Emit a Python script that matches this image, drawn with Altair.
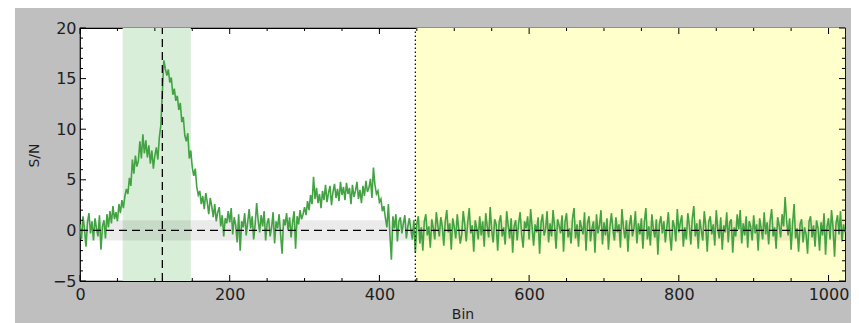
import altair as alt
import pandas as pd

# ---------------- data ----------------
BIN_STEP = 2
sn = [
    # 0-38
    0.6, -0.9, 1.4, 0.1, -1.6, 0.8, 1.7, -0.3, 0.9, -1.0,
    1.2, 0.2, -0.6, 1.5, -1.9, 0.4, 1.0, -0.8, 1.6, 0.3,
    # 40-78
    1.9, 0.7, 2.4, 1.1, 1.8, 0.9, 2.6, 1.7, 3.0, 2.2,
    3.4, 4.1, 3.6, 5.2, 4.4, 7.0, 5.6, 7.4, 6.3, 6.9,
    # 80-118
    8.8, 7.1, 9.5, 7.6, 8.9, 7.2, 8.4, 6.6, 7.9, 6.1,
    7.4, 8.2, 7.0, 9.2, 10.4, 13.6, 16.8, 16.0, 15.3, 15.9,
    # 120-158
    14.6, 15.1, 13.4, 14.0, 12.8, 13.3, 11.9, 12.6, 10.7, 11.2,
    9.4, 8.8, 9.6, 7.1, 7.9, 6.2, 5.4, 6.1, 4.3, 3.5,
    # 160-198
    3.9, 2.6, 3.4, 2.1, 3.7, 2.8, 1.6, 3.2, 2.4, 1.3,
    2.6, 0.9, 1.8, 2.3, 0.4, 1.5, -0.6, 1.2, 0.7, 1.9,
    # 200-238
    0.8, 2.2, -0.4, 1.3, 0.5, -1.2, 1.6, -2.0, 0.9, 0.3,
    1.7, -0.5, 0.8, 2.1, 0.2, 1.4, -0.9, 0.6, 2.7, 1.0,
    # 240-278
    -0.2, 1.5, 0.4, 1.9, -1.0, 0.7, 1.2, -0.6, 0.3, 1.8,
    -1.3, 0.9, 0.2, 1.6, -0.4, -2.3, 1.1, 0.5, 1.7, 0.0,
    # 280-318
    1.3, -0.7, 0.8, 1.9, -1.8, 1.4, 0.6, 2.0, 1.1, 1.6,
    2.3, 1.5, 2.9, 2.0, 3.5, 2.6, 5.3, 3.1, 4.2, 2.7,
    # 320-358
    3.6, 2.2, 3.9, 3.0, 4.5, 2.8, 3.7, 4.4, 2.5, 3.8,
    4.6, 3.2, 4.1, 2.9, 4.8, 3.5, 4.3, 3.0, 4.7, 3.6,
    # 360-398
    4.2, 2.6, 4.5, 3.3, 3.9, 4.8, 3.1, 4.0, 2.7, 4.4,
    3.4, 4.9, 3.8, 4.2, 5.1, 3.2, 6.2, 4.5, 3.6, 3.9,
    # 400-438
    2.8, 3.1, 1.9, 2.4, 1.2, 0.3, 2.6, -0.4, -2.9, 1.4,
    0.2, 1.6, -1.1, 0.9, 1.3, -0.3, 0.7, 1.5, -0.8, 0.4,
    # 440-478
    1.2, 0.1, -0.9, 1.0, -2.2, 0.6, 1.4, -1.3, 0.3, -2.0,
    0.9, 1.6, -0.5, 0.4, -1.7, 1.1, 0.2, -0.9, 1.8, 0.5,
    # 480-
    -0.6, 1.3, 0.4, -1.5, 0.9, 2.0, -0.2, 0.7, -1.9, 1.2,
    0.3, -0.8, 1.6, 0.1, -1.3, -0.4, 1.9, 0.6, -1.1, 0.8,
    2.2, -0.3, 0.5, -2.1, 1.0, 0.2, -0.9, 1.4, -0.5, 0.9,
    -1.6, 1.7, 0.4, -0.7, 2.3, 0.0, -1.2, 1.1, 0.6, -2.0,
    0.8, 1.5, -0.6, 0.3, -1.4, 1.9, 0.5, -0.8, 1.2, -2.2,
    0.4, 1.0, -1.0, 0.7, 1.8, -0.4, -1.7, 0.9, 0.2, 1.4,
    -0.9, 2.1, 0.3, -1.5, 0.6, -0.2, 1.3, -2.3, 0.8, 1.6,
    -0.5, 0.1, 1.9, -1.2, 0.7, -0.6, 2.0, 0.4, -1.8, 1.1,
    0.5, -0.3, 1.5, -2.1, 0.9, 1.7, -0.7, 0.2, -1.3, 1.2,
    2.2, -0.8, 0.6, -1.6, 1.0, 0.3, -0.4, 1.8, -2.0, 0.7,
    1.4, -1.1, 0.2, 0.9, -2.2, 1.6, -0.3, 0.5, 2.0, -1.4,
    0.8, -0.5, 1.2, -1.9, 0.4, 1.7, 0.0, -1.0, 1.3, -0.2,
    0.6, -1.7, 2.1, 0.3, -0.8, 1.0, -2.1, 0.5, 1.5, -0.6,
    0.2, 1.9, -1.3, 0.7, -0.4, 1.2, -1.8, 0.9, 2.2, -0.9,
    0.4, -1.5, 1.6, 0.1, -0.7, 1.1, -2.4, 0.6, 1.4, -0.3,
    0.9, -1.2, 0.3, 1.8, -0.5, -2.0, 1.0, 0.4, -1.1, 2.1,
    -0.2, 0.8, 1.5, -1.6, 0.3, -0.9, 1.7, 0.5, -1.4, 1.2,
    2.4, -0.6, 0.7, -1.8, 1.1, 0.0, -1.0, 1.9, 0.4, -2.1,
    0.9, 1.4, -0.4, 0.6, -1.5, 2.0, 0.2, -0.8, 1.3, -1.9,
    0.5, -0.2, 1.8, -1.2, 0.8, 1.1, -2.2, 0.3, -0.6, 1.6,
    0.1, 2.0, -1.3, 0.7, -0.5, 1.4, -1.7, 0.9, 0.4, -1.0,
    1.5, -0.3, 0.6, -2.0, 1.2, 0.2, -0.9, 1.8, -0.4, 0.8,
    -1.4, 1.0, 2.1, -0.6, 0.3, -1.8, 1.3, 0.5, -0.7, 1.6,
    0.4, 3.3, 0.9, -0.5, 1.2, -1.9, 0.7, 2.6, -0.8, 0.2,
    -2.1, 0.6, 1.1, -1.2, 0.3, -0.4, -2.3, 0.9, 1.4, -0.7,
    0.5, -1.6, 1.0, 0.2, -2.0, 0.8, -0.5, 1.7, -2.4, 0.4,
    1.2, -0.9, 2.0, 0.3, -2.6, 0.7, 1.5, -0.4, 1.9, -1.1,
    0.6, -0.2,
]
bins = [i * BIN_STEP for i in range(len(sn))]

x_domain = [0, 1022]
y_domain = [-5, 20]
peak_bin = [110]
green_span = {"x0": [57], "x1": [148]}
yellow_span = {"x0": [448], "x1": [1022]}
noise_band = {"y0": [-1], "y1": [1]}
x_major = [0, 200, 400, 600, 800, 1000]
x_minor = [v for v in range(50, 1001, 50) if v % 200 != 0]
y_major = [-5, 0, 5, 10, 15, 20]
y_minor = [v for v in range(-4, 20) if v % 5 != 0]

W, H = 765, 253
PAD = {"left": 72, "top": 20, "right": 6, "bottom": 42}
FONT = "DejaVu Sans"
TXT = "#1e1e1e"
xs = alt.Scale(domain=x_domain, nice=False, zero=False)
ys = alt.Scale(domain=y_domain, nice=False, zero=False)

line_df = pd.DataFrame({"Bin": bins, "SN": sn})

yellow = alt.Chart(pd.DataFrame(yellow_span)).mark_rect(color="#ffffcc").encode(
    x=alt.X("x0:Q", scale=xs, axis=alt.Axis(
        values=x_major, format="d", title="Bin", grid=False, ticks=False, domain=False,
        labelFlush=False, labelFontSize=16, labelFont=FONT, labelColor=TXT, labelPadding=5,
        titleFont=FONT, titleFontSize=14, titleFontWeight="normal", titleColor=TXT,
        titleY=26, titleBaseline="top")),
    x2="x1:Q",
    y=alt.Y(datum=y_domain[0], type="quantitative", scale=ys, axis=alt.Axis(
        values=y_major, title="S/N", grid=False, ticks=False, domain=False,
        labelFlush=False, labelFontSize=16, labelFont=FONT, labelColor=TXT, labelPadding=4,
        labelExpr="replace(datum.label, '-', '\u2212')",
        titleFont=FONT, titleFontSize=14, titleFontWeight="normal", titleColor=TXT,
        titleX=-46, titleY=127, titleAngle=270, titleAlign="center", titleBaseline="middle")),
    y2=alt.Y2(datum=y_domain[1]),
)

green = alt.Chart(pd.DataFrame(green_span)).mark_rect(color="#d9eed9").encode(
    x=alt.X("x0:Q", scale=xs), x2="x1:Q",
    y=alt.Y(datum=y_domain[0], type="quantitative", scale=ys), y2=alt.Y2(datum=y_domain[1]),
)

gray = alt.Chart(pd.DataFrame(noise_band)).mark_rect(color="#000000", opacity=0.08).encode(
    x=alt.X(datum=x_domain[0], type="quantitative", scale=xs), x2=alt.X2(datum=x_domain[1]),
    y=alt.Y("y0:Q", scale=ys), y2="y1:Q",
)

line = alt.Chart(line_df).mark_line(color="#43a343", strokeWidth=1.6).encode(
    x=alt.X("Bin:Q", scale=xs), y=alt.Y("SN:Q", scale=ys),
)

dotted = alt.Chart(pd.DataFrame({"x": yellow_span["x0"]})).mark_rule(
    color="black", strokeWidth=1.2, strokeDash=[1.5, 2.5]).encode(
    x=alt.X("x:Q", scale=xs),
    y=alt.Y(datum=y_domain[0], type="quantitative", scale=ys), y2=alt.Y2(datum=y_domain[1]),
)

vdash = alt.Chart(pd.DataFrame({"x": peak_bin})).mark_rule(
    color="black", strokeWidth=1.3, strokeDash=[8, 5]).encode(
    x=alt.X("x:Q", scale=xs),
    y=alt.Y(datum=y_domain[0], type="quantitative", scale=ys), y2=alt.Y2(datum=y_domain[1]),
)

hdash = alt.Chart(pd.DataFrame({"y": [0]})).mark_rule(
    color="black", strokeWidth=1.3, strokeDash=[8, 5]).encode(
    y=alt.Y("y:Q", scale=ys),
    x=alt.X(datum=x_domain[0], type="quantitative", scale=xs), x2=alt.X2(datum=x_domain[1]),
)

def xticks(vals, length):
    d = pd.DataFrame({"x": vals})
    bot = alt.Chart(d).mark_rule(color="black", strokeWidth=1).encode(
        x=alt.X("x:Q", scale=xs), y=alt.value(H), y2=alt.value(H - length))
    top = alt.Chart(d).mark_rule(color="black", strokeWidth=1).encode(
        x=alt.X("x:Q", scale=xs), y=alt.value(0), y2=alt.value(length))
    return [bot, top]

def yticks(vals, length):
    d = pd.DataFrame({"y": vals})
    left = alt.Chart(d).mark_rule(color="black", strokeWidth=1).encode(
        y=alt.Y("y:Q", scale=ys), x=alt.value(0), x2=alt.value(length))
    right = alt.Chart(d).mark_rule(color="black", strokeWidth=1).encode(
        y=alt.Y("y:Q", scale=ys), x=alt.value(W), x2=alt.value(W - length))
    return [left, right]

ticks = xticks(x_major, 6) + xticks(x_minor, 3) + yticks(y_major, 6) + yticks(y_minor, 3)

# white strip at the far left of the figure (outside the grey figure face)
strip = alt.Chart(pd.DataFrame({"k": [0]})).mark_rect(color="white").encode(
    x=alt.value(-PAD["left"]), x2=alt.value(-PAD["left"] + 7),
    y=alt.value(-PAD["top"]), y2=alt.value(H + PAD["bottom"]),
)

chart = alt.layer(yellow, green, gray, line, dotted, vdash, hdash, *ticks, strip).properties(
    width=W, height=H,
    padding=PAD,
    autosize=alt.AutoSizeParams(type="none"),
    background="#bfbfbf",
).configure_view(fill="white", stroke="black", strokeWidth=1.2)

chart.save("out.html", embed_options={"renderer": "svg", "actions": False})
